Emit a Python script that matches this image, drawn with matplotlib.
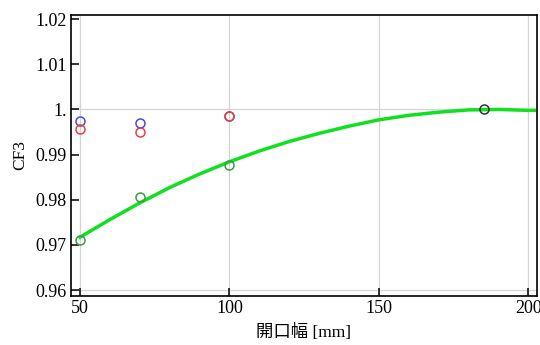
import matplotlib
matplotlib.use("Agg")
import matplotlib.pyplot as plt

# measured CF3 values vs opening width
width_blue = [50, 70, 100]
cf3_blue = [0.9975, 0.9970, 0.9985]
width_red = [50, 70, 100]
cf3_red = [0.9956, 0.9949, 0.9985]
width_green = [50, 70, 100]
cf3_green = [0.9711, 0.9806, 0.9876]
width_black = [185]
cf3_black = [1.0000]

# fitted curve
curve_x = [50, 60, 70, 80, 90, 100, 110, 120, 130, 140, 150, 160, 170, 180, 190, 200, 202]
curve_y = [0.9717, 0.9756, 0.9793, 0.9827, 0.9857, 0.9884, 0.9908, 0.9929, 0.9947,
           0.9963, 0.9977, 0.9987, 0.9994, 0.9999, 1.0000, 0.9998, 0.9998]

yticks = [0.96, 0.97, 0.98, 0.99, 1.0, 1.01, 1.02]
ytick_labels = ["0.96", "0.97", "0.98", "0.99", "1.", "1.01", "1.02"]
xticks = [50, 100, 150, 200]

plt.rcParams['font.family'] = ['Liberation Serif', 'Noto Sans CJK JP']

fig = plt.figure(figsize=(5.4, 3.45), dpi=100)
ax = fig.add_axes([0.131, 0.142, 0.863, 0.815])

for xv in xticks:
    ax.axvline(xv, color="#d4d4d4", lw=0.9, zorder=0)
for yv in [0.96, 1.0]:
    ax.axhline(yv, color="#d4d4d4", lw=0.9, zorder=0)

ax.plot(curve_x, curve_y, color="#10e020", lw=2.5, zorder=2)

mk = dict(marker="o", ls="none", ms=6.5, mfc="none", mew=1.1, zorder=3)
ax.plot(width_blue, cf3_blue, mec="#4a4ad8", **mk)
ax.plot(width_red, cf3_red, mec="#e8433a", **mk)
ax.plot(width_green, cf3_green, mec="#3c9a4a", **mk)
ax.plot(width_black, cf3_black, mec="#333333", **mk)

ax.set_xlim(46.9, 202.8)
ax.set_ylim(0.95867, 1.02096)
ax.set_xticks(xticks)
ax.set_yticks(yticks)
ax.set_yticklabels(ytick_labels)
ax.tick_params(direction="in", length=6, width=1.1, labelsize=13, pad=3)
for s in ax.spines.values():
    s.set_linewidth(1.2)

ax.set_xlabel("開口幅 [mm]", fontsize=12.5, labelpad=5)
ax.set_ylabel("CF3", fontsize=12.5, labelpad=5)

fig.savefig("out.png", dpi=100)
